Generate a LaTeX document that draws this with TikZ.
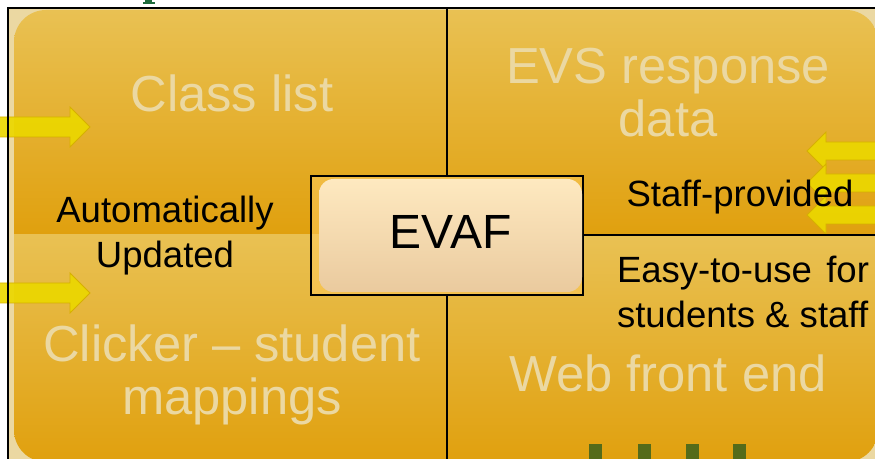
\documentclass[tikz,border=0pt]{standalone}
\usepackage{fontspec}
\setmainfont{Liberation Sans}
\usepackage{tikz}
\usetikzlibrary{positioning}
\usetikzlibrary{calc}
\usetikzlibrary{math}

\definecolor{goldtop}{HTML}{E9C153}
\definecolor{goldbot}{HTML}{E0A00E}
\definecolor{palebeige}{HTML}{EBD8A2}
\definecolor{arrowyellow}{HTML}{EBD700}
\definecolor{arrowedge}{HTML}{D6B000}
\definecolor{evaftop}{HTML}{FEE9C0}
\definecolor{evafbot}{HTML}{EACA9E}
\definecolor{evafrim}{HTML}{FFCB5C}
\definecolor{olivegreen}{HTML}{546B1A}
\definecolor{titlegreen}{HTML}{1F6B3C}

\tikzset{
  panel/.style={top color=goldtop, bottom color=goldbot},
  blockarrow/.style={fill=arrowyellow, draw=arrowedge, line width=0.6pt, fill opacity=0.92},
  bigtext/.style={font=\fontsize{38}{40}\selectfont, text=palebeige, align=center,
    anchor=base, inner sep=0pt},
  note/.style={font=\fontsize{27.4}{33.75}\selectfont, align=center, anchor=base,
    inner sep=0pt},
  evafframe/.style={draw=black, fill=evafrim, fill opacity=0.55, text opacity=1,
    minimum width=204pt, minimum height=89.25pt, inner sep=0pt},
  evafcore/.style={top color=evaftop, bottom color=evafbot, rounded corners=11pt,
    minimum width=197.25pt, minimum height=84.75pt, inner sep=0pt, text depth=6pt,
    font=\fontsize{36}{40}\selectfont},
}

\begin{document}
\begin{tikzpicture}[x=0.75pt,y=-0.75pt,line width=1.5pt]

  \useasboundingbox (0,0) rectangle (875,459);

  % frame corners
  \coordinate (frameNW) at (8,8);
  \coordinate (frameSW) at (8,462);
  \coordinate (frameNE) at (878,8);

  % clipped piece of the slide title
  \fill[titlegreen] (145,0) rectangle (152,3);
  \fill[titlegreen] (143,2) rectangle (155,4);

  % pale backdrop and the four gold panels
  \fill[palebeige] (8,8) rectangle (878,462);
  \begin{scope}
    \clip[rounded corners=24pt] (14,10) rectangle (878,462);
    \shade[panel] (14,10)   rectangle (447,235);
    \shade[panel] (447,10)  rectangle (878,236);
    \shade[panel] (14,235)  rectangle (447,462);
    \shade[panel] (447,236) rectangle (878,462);
  \end{scope}

  % feeds coming in from the left
  \foreach \cy in {127,293}
    \filldraw[blockarrow] (-4,\cy-10) -- (70,\cy-10) -- (70,\cy-20) -- (90,\cy)
      -- (70,\cy+20) -- (70,\cy+10) -- (-4,\cy+10) -- cycle;

  % feeds coming in from the right
  \foreach \cy in {151,183,215}
    \filldraw[blockarrow] (882,\cy-9) -- (826,\cy-9) -- (826,\cy-19) -- (807,\cy)
      -- (826,\cy+19) -- (826,\cy+9) -- (882,\cy+9) -- cycle;

  % outer frame
  \draw (frameSW) -- (frameNW) -- (frameNE);

  % bottom marks
  \foreach \gx in {589,638,686,733}
    \fill[olivegreen] (\gx,444) rectangle ++(13,18);

  % panel titles (base = last line)
  \node[bigtext] (classlist) at (232,112) {Class list};
  \node[bigtext] (evsdata)   at (668,137) {EVS response\\data};
  \node[bigtext] (clicker)   at (232,415) {Clicker – student\\mappings};
  \node[bigtext] (webfront)  at (668,392) {Web front end};

  % notes
  \node[note] (autoupd)   at (165,268) {Automatically\\Updated};
  \node[note] (staffprov) at (740,207) {Staff-provided};
  \node[note, align=left, anchor=base west] (easyuse) at (616,328)
    {\makebox[189pt][s]{Easy-to-use for}\\students \& staff};

  % centre box
  \node[evafframe] (evaf) at (447,235.5) {};
  \node[evafcore] (evafin) at (450.5,235.5) {EVAF};

  % dividers
  \draw (evaf.north) -- (evaf.north |- frameNW);
  \draw (evaf.south) -- (evaf.south |- frameSW);
  \draw (evaf.east) -- (evaf.east -| frameNE);

\end{tikzpicture}
\end{document}
